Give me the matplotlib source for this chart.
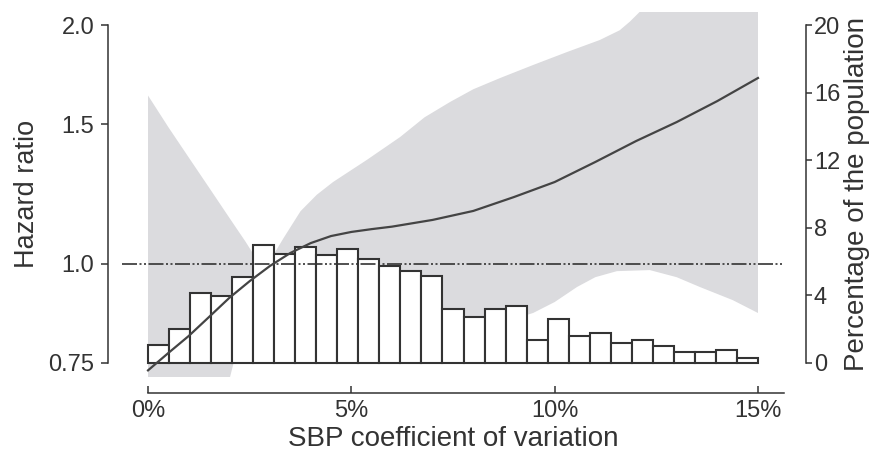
import matplotlib.pyplot as plt
import numpy as np
from matplotlib.ticker import FixedLocator, NullLocator, NullFormatter

plt.rcParams['font.family'] = ['Liberation Sans', 'DejaVu Sans']

# share of the population per SBP CV bin (29 equal bins over 0-15 %)
pop_pct = [1.04, 2.00, 4.14, 3.98, 5.07, 6.98, 6.45, 6.84, 6.39, 6.72,
           6.13, 5.74, 5.44, 5.17, 3.20, 2.70, 3.20, 3.39, 1.36, 2.59,
           1.60, 1.76, 1.17, 1.36, 1.02, 0.67, 0.67, 0.77, 0.31]
bin_lo, bin_hi = 0.0, 15.0

# spline hazard ratio
curve_cv = [0, 0.5, 1, 1.5, 2, 2.5, 3, 3.5, 4, 4.5, 5, 5.5, 6, 7, 8, 9, 10, 11, 12, 13, 14, 15]
curve_hr = [0.734, 0.772, 0.811, 0.857, 0.906, 0.951, 0.994, 1.032, 1.062, 1.084, 1.097,
            1.106, 1.114, 1.136, 1.166, 1.214, 1.268, 1.344, 1.428, 1.509, 1.604, 1.715]

# 95% CI bounds
upper_cv = [0, 0.5, 1.0, 1.5, 2.0, 2.4, 2.85, 3.33, 3.75, 4.15, 4.55, 5.38, 6.2, 6.8, 7.43,
            8.0, 8.66, 9.47, 10.3, 11.11, 11.6, 11.85, 12.1, 13, 14, 15]
upper_hr = [1.63, 1.487, 1.362, 1.248, 1.143, 1.066, 0.98, 1.077, 1.165, 1.222, 1.268, 1.352,
            1.445, 1.53, 1.6, 1.66, 1.715, 1.781, 1.849, 1.915, 1.97, 2.02, 2.08, 2.35, 2.6, 2.8]
lower_cv = [0, 1.0, 1.8, 2.26, 2.6, 2.85, 3.3, 3.74, 4.97, 6.2, 6.8, 7.18, 7.84, 8.3, 8.66,
            9.47, 10.0, 10.55, 11.0, 11.53, 12.34, 13.0, 13.57, 14.38, 15]
lower_hr = [0.5, 0.55, 0.65, 0.807, 0.914, 0.98, 0.968, 0.958, 0.925, 0.885, 0.857, 0.838,
            0.821, 0.828, 0.842, 0.867, 0.895, 0.935, 0.962, 0.979, 0.982, 0.962, 0.935,
            0.900, 0.867]

hr_ticks = [0.75, 1.0, 1.5, 2.0]
hr_labels = ['0.75', '1.0', '1.5', '2.0']
pct_ticks = [0, 4, 8, 12, 16, 20]
cv_ticks = [0, 5, 10, 15]
cv_labels = ['0%', '5%', '10%', '15%']

INK = '#333333'
BAND = '#dbdbde'

fig = plt.figure(figsize=(8.74, 4.61), dpi=100)
pos = [122 / 874, 84 / 461, 662 / 874, 365.3 / 461]

ax_hr = fig.add_axes(pos)
ax_hr.set_yscale('log')
ax_hr.set_xlim(-0.64, 15.64)
ax_hr.set_ylim(0.720, 2.079)

ax_pct = ax_hr.twinx()
ax_pct.set_ylim(-0.83, 20.79)

ax_top = fig.add_axes(pos, sharex=ax_hr)
ax_top.set_yscale('log')
ax_top.set_ylim(0.720, 2.079)
ax_top.axis('off')

ax_hr.set_zorder(1)
ax_pct.set_zorder(2)
ax_top.set_zorder(3)
for a in (ax_pct, ax_top):
    a.patch.set_visible(False)

# confidence band (bottom layer)
band_x = np.r_[upper_cv, lower_cv[::-1]]
band_y = np.r_[upper_hr, lower_hr[::-1]]
ax_hr.fill(band_x, band_y, color=BAND, lw=0)

# histogram (middle layer)
width = (bin_hi - bin_lo) / len(pop_pct)
lefts = bin_lo + width * np.arange(len(pop_pct))
ax_pct.bar(lefts, pop_pct, width=width, align='edge', facecolor='white',
           edgecolor=INK, linewidth=1.5)

# reference line and spline (top layer)
ax_top.axhline(1.0, color=INK, lw=1.2, dashes=(9, 1.5, 1.2, 1.5, 1.2, 1.5))
ax_top.plot(curve_cv, curve_hr, color='#444444', lw=1.6)

# axes styling
for s in ('top', 'right'):
    ax_hr.spines[s].set_visible(False)
for s in ('top', 'left', 'bottom'):
    ax_pct.spines[s].set_visible(False)

ax_hr.spines['left'].set_position(('outward', 10))
ax_hr.spines['left'].set_bounds(0.75, 2.0)
ax_hr.spines['bottom'].set_position(('outward', 11.5))
ax_hr.spines['bottom'].set_bounds(0, 15.64)
ax_pct.spines['right'].set_position(('outward', 15.5))
ax_pct.spines['right'].set_bounds(0, 20)
for sp in (ax_hr.spines['left'], ax_hr.spines['bottom'], ax_pct.spines['right']):
    sp.set_color(INK)
    sp.set_linewidth(1.1)

ax_hr.yaxis.set_major_locator(FixedLocator(hr_ticks))
ax_hr.yaxis.set_minor_locator(NullLocator())
ax_hr.yaxis.set_minor_formatter(NullFormatter())
ax_hr.set_yticklabels(hr_labels)
ax_hr.set_xticks(cv_ticks)
ax_hr.set_xticklabels(cv_labels)
ax_pct.set_yticks(pct_ticks)

ax_hr.tick_params(axis='y', direction='out', length=5, width=1.1, color=INK,
                  labelsize=17, labelcolor=INK, pad=5)
ax_hr.tick_params(axis='x', direction='in', length=5, width=1.1, color=INK,
                  labelsize=17, labelcolor=INK, pad=5)
ax_pct.tick_params(axis='y', direction='out', length=4, width=1.1, color=INK,
                   labelsize=17, labelcolor=INK, pad=2)

ax_hr.set_xlabel('SBP coefficient of variation', fontsize=20, color=INK, labelpad=3)
ax_hr.set_ylabel('Hazard ratio', fontsize=19.5, color=INK, labelpad=6)
ax_pct.set_ylabel('Percentage of the population', fontsize=20, color=INK, labelpad=3)

fig.savefig('out.png', dpi=100)
